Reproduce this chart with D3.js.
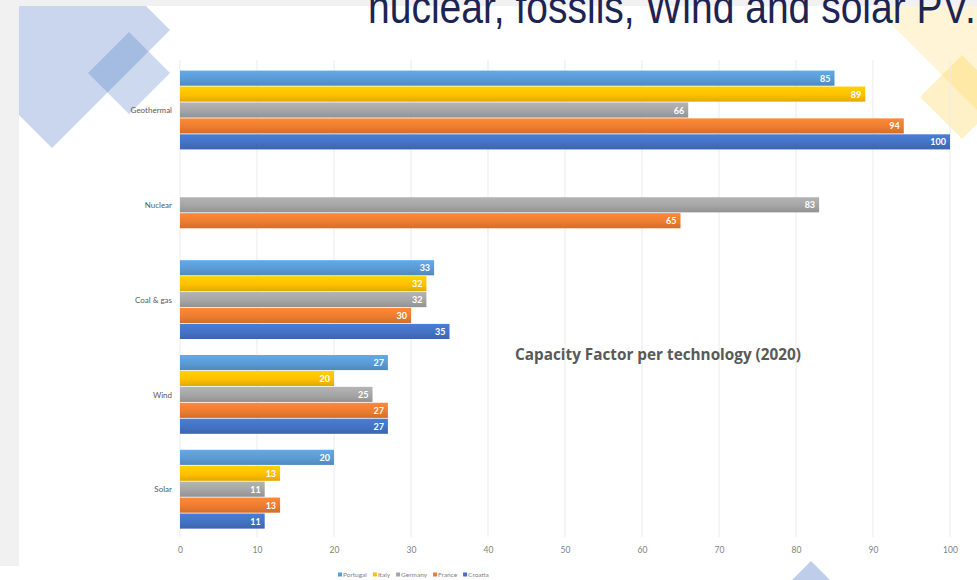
<!DOCTYPE html>
<html>
<head>
<meta charset="utf-8">
<script src="https://cdn.jsdelivr.net/npm/d3@7"></script>
<style>
  html, body { margin: 0; padding: 0; background: #f1f1f1; }
  svg { display: block; }
</style>
</head>
<body>
<div id="chart"></div>
<script>
const categories = ["Geothermal", "Nuclear", "Coal & gas", "Wind", "Solar"];
const countries = ["Portugal", "Italy", "Germany", "France", "Croatia"];
const portugal = [85, null, 33, 27, 20];
const italy = [89, null, 32, 20, 13];
const germany = [66, 83, 32, 25, 11];
const france = [94, 65, 30, 27, 13];
const croatia = [100, null, 35, 27, 11];
const xTicks = [0, 10, 20, 30, 40, 50, 60, 70, 80, 90, 100];

const colors = {
  Portugal: "#5b9bd5",
  Italy: "#ffc000",
  Germany: "#a5a5a5",
  France: "#ed7d31",
  Croatia: "#4472c4"
};

const seriesValues = { Portugal: portugal, Italy: italy, Germany: germany, France: france, Croatia: croatia };

const W = 977, H = 580;
const svg = d3.select("#chart").append("svg")
  .attr("width", W).attr("height", H);

const defs = svg.append("defs");
defs.append("clipPath").attr("id", "slide")
  .append("rect").attr("x", 19).attr("y", 6).attr("width", W - 19).attr("height", H - 6);

// bar gradients (excel-ish look)
countries.forEach(c => {
  const g = defs.append("linearGradient").attr("id", "g-" + c)
    .attr("x1", 0).attr("y1", 0).attr("x2", 0).attr("y2", 1);
  const base = d3.color(colors[c]);
  g.append("stop").attr("offset", "0%").attr("stop-color", base.brighter(0.25));
  g.append("stop").attr("offset", "55%").attr("stop-color", base);
  g.append("stop").attr("offset", "100%").attr("stop-color", base.darker(0.35));
});

// slide background
svg.append("rect").attr("x", 19).attr("y", 6).attr("width", W - 19).attr("height", H - 6).attr("fill", "#fff");
svg.append("rect").attr("x", 0).attr("y", 566).attr("width", 19).attr("height", 14).attr("fill", "#fff");

// decorative diamonds
const deco = svg.append("g").attr("clip-path", "url(#slide)");
const diamond = (cx, cy, r) => `M${cx},${cy - r}L${cx + r},${cy}L${cx},${cy + r}L${cx - r},${cy}Z`;
deco.append("path").attr("d", diamond(52, 30, 118)).attr("fill", "#4472c4").attr("opacity", 0.29);
deco.append("path").attr("d", diamond(129, 73, 41)).attr("fill", "#4472c4").attr("opacity", 0.27);
deco.append("path").attr("d", diamond(1000, 0, 133)).attr("fill", "#ffc000").attr("opacity", 0.16);
deco.append("path").attr("d", diamond(962, 97, 42)).attr("fill", "#ffc000").attr("opacity", 0.22);
deco.append("path").attr("d", diamond(811, 621, 60)).attr("fill", "#4472c4").attr("opacity", 0.35);

// slide title (cut off at top, as in the slide) - narrow look via horizontal squeeze
svg.append("text")
  .attr("transform", "translate(368,23) scale(0.83,1)")
  .attr("font-family", "Liberation Sans, Arial, sans-serif")
  .attr("font-size", 47)
  .attr("fill", "#1d2452")
  .text("nuclear, fossils, Wind and solar PV.");

// chart
const x = d3.scaleLinear().domain([0, 100]).range([180, 950]);
const y = d3.scaleBand().domain(categories).range([63, 537]).paddingInner(0.16).paddingOuter(0.08);
const ySub = d3.scaleBand().domain(countries).range([0, y.bandwidth()]).padding(0);

const chart = svg.append("g");

// gridlines
chart.append("g").selectAll("line").data(xTicks).join("line")
  .attr("x1", d => x(d)).attr("x2", d => x(d))
  .attr("y1", 60).attr("y2", 537)
  .attr("stroke", "#ebebeb").attr("stroke-width", 1);

// bars
const rows = [];
categories.forEach((cat, i) => {
  countries.forEach(c => {
    const v = seriesValues[c][i];
    if (v != null) rows.push({ cat, country: c, value: v });
  });
});

chart.append("g").selectAll("rect").data(rows).join("rect")
  .attr("x", x(0))
  .attr("y", d => y(d.cat) + ySub(d.country))
  .attr("width", d => x(d.value) - x(0))
  .attr("height", ySub.bandwidth() - 0.8)
  .attr("fill", d => "url(#g-" + d.country + ")");

chart.append("g").selectAll("text").data(rows).join("text")
  .attr("x", d => x(d.value) - 4)
  .attr("y", d => y(d.cat) + ySub(d.country) + ySub.bandwidth() / 2)
  .attr("dy", "0.35em")
  .attr("text-anchor", "end")
  .attr("font-family", "Lato, sans-serif")
  .attr("font-size", 9)
  .attr("font-weight", "bold")
  .attr("fill", "#fff")
  .text(d => d.value);

// category axis labels
chart.append("g").selectAll("text").data(categories).join("text")
  .attr("x", 172)
  .attr("y", d => y(d) + y.bandwidth() / 2)
  .attr("dy", "0.35em")
  .attr("text-anchor", "end")
  .attr("font-family", "Lato, sans-serif")
  .attr("font-size", 8)
  .attr("fill", "#595959")
  .text(d => d);

// x axis tick labels
const xAxis = chart.append("g").attr("transform", "translate(0,550)")
  .call(d3.axisBottom(x).tickValues(xTicks).tickSize(0).tickPadding(0));
xAxis.select(".domain").remove();
xAxis.selectAll("text")
  .attr("font-family", "Lato, sans-serif")
  .attr("font-size", 8.5)
  .attr("fill", "#7f7f7f")
  .attr("dy", "0.35em");

// chart title
chart.append("text")
  .attr("x", 658).attr("y", 355)
  .attr("dy", "0.35em")
  .attr("text-anchor", "middle")
  .attr("font-family", "Open Sans, sans-serif")
  .attr("font-size", 15.3)
  .attr("font-weight", "bold")
  .attr("fill", "#595959")
  .text("Capacity Factor per technology (2020)");

// legend
const legend = chart.append("g").attr("transform", "translate(338,575)");
let lx = 0;
countries.forEach(c => {
  legend.append("rect").attr("x", lx).attr("y", -2.5).attr("width", 4).attr("height", 4).attr("fill", colors[c]);
  const t = legend.append("text").attr("x", lx + 5).attr("y", 0).attr("dy", "0.35em")
    .attr("font-family", "Lato, sans-serif").attr("font-size", 6.5).attr("fill", "#7f7f7f")
    .text(c);
  lx += 5 + t.node().getComputedTextLength() + 6;
});
</script>
</body>
</html>
